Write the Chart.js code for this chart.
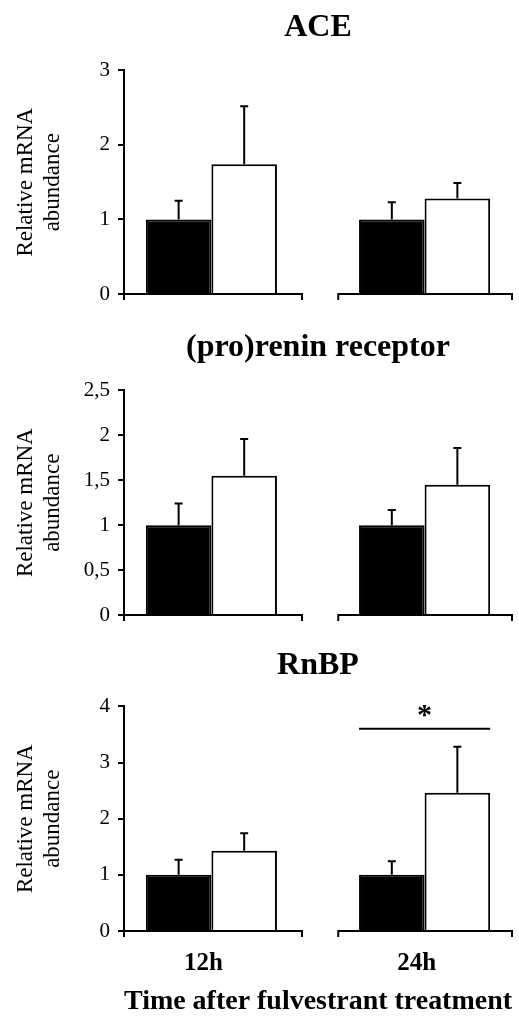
<!DOCTYPE html>
<html>
<head>
<meta charset="utf-8">
<script src="https://cdn.jsdelivr.net/npm/chart.js@4"></script>
<style>
  body { margin: 0; background: #fff; }
  canvas { display: block; }
</style>
</head>
<body>
<canvas id="aceChart" width="519" height="320"></canvas>
<canvas id="prrChart" width="519" height="320"></canvas>
<canvas id="rnbpChart" width="519" height="381"></canvas>
<script>
// data (control = black, fulvestrant = white)
const groups = ['12h', '24h'];

const aceControl = [1, 1];
const aceControlErr = [0.25, 0.23];
const aceTreated = [1.74, 1.28];
const aceTreatedErr = [0.78, 0.21];

const prrControl = [1, 1];
const prrControlErr = [0.24, 0.17];
const prrTreated = [1.55, 1.45];
const prrTreatedErr = [0.41, 0.41];

const rnbpControl = [1, 1];
const rnbpControlErr = [0.27, 0.24];
const rnbpTreated = [1.43, 2.46];
const rnbpTreatedErr = [0.31, 0.82];

const aceTicks = [0, 1, 2, 3];
const prrTicks = [0, 0.5, 1, 1.5, 2, 2.5];
const rnbpTicks = [0, 1, 2, 3, 4];

const rnbpSignif = { group: 1, y: 3.6, label: '*' };

const serif = "'Liberation Serif', 'Times New Roman', serif";
const AXIS_BREAK = [0.425, 0.595];

// error bars (upper only, with cap)
const errorBars = {
    id: 'errorBars',
    afterDatasetsDraw(chart) {
        const ctx = chart.ctx;
        const y = chart.scales.y;
        ctx.save();
        ctx.strokeStyle = '#000';
        ctx.lineWidth = 2;
        chart.data.datasets.forEach((ds, i) => {
            const meta = chart.getDatasetMeta(i);
            meta.data.forEach((bar, j) => {
                const top = y.getPixelForValue(ds.data[j].y + ds.errors[j]);
                ctx.beginPath();
                ctx.moveTo(bar.x, bar.y);
                ctx.lineTo(bar.x, top);
                ctx.moveTo(bar.x - 4, top);
                ctx.lineTo(bar.x + 4, top);
                ctx.stroke();
            });
        });
        ctx.restore();
    }
};

// x axis drawn as two pieces, one under each time point
const brokenAxis = {
    id: 'brokenAxis',
    afterDraw(chart) {
        const ctx = chart.ctx;
        const x = chart.scales.x;
        const y0 = chart.scales.y.getPixelForValue(0);
        const segs = [[x.min, AXIS_BREAK[0]], [AXIS_BREAK[1], x.max]];
        ctx.save();
        ctx.strokeStyle = '#000';
        ctx.lineWidth = 2;
        segs.forEach(s => {
            const a = x.getPixelForValue(s[0]);
            const b = x.getPixelForValue(s[1]);
            ctx.beginPath();
            ctx.moveTo(a, y0);
            ctx.lineTo(b, y0);
            ctx.moveTo(a, y0 - 1);
            ctx.lineTo(a, y0 + 6);
            ctx.moveTo(b, y0 - 1);
            ctx.lineTo(b, y0 + 6);
            ctx.stroke();
        });
        ctx.restore();
    }
};

const significance = {
    id: 'significance',
    afterDraw(chart, args, opts) {
        if (!opts || opts.label === undefined) return;
        const ctx = chart.ctx;
        const y = chart.scales.y;
        const b0 = chart.getDatasetMeta(0).data[opts.group];
        const b1 = chart.getDatasetMeta(1).data[opts.group];
        const left = b0.x - b0.width / 2;
        const right = b1.x + b1.width / 2;
        const py = y.getPixelForValue(opts.y);
        ctx.save();
        ctx.strokeStyle = '#000';
        ctx.lineWidth = 2;
        ctx.beginPath();
        ctx.moveTo(left, py);
        ctx.lineTo(right, py);
        ctx.stroke();
        ctx.fillStyle = '#000';
        ctx.font = 'bold 30px ' + serif;
        ctx.textAlign = 'center';
        ctx.textBaseline = 'middle';
        ctx.fillText(opts.label, (left + right) / 2, py - 13);
        ctx.restore();
    }
};

function makePanel(id, title, control, controlErr, treated, treatedErr, ticks, opt) {
    const toPoints = vals => groups.map((g, i) => ({ x: i, y: vals[i] }));
    const config = {
        type: 'bar',
        data: {
            datasets: [{
                label: 'control',
                data: toPoints(control),
                errors: controlErr,
                backgroundColor: '#000',
                borderColor: '#000',
                borderWidth: 2
            }, {
                label: 'fulvestrant',
                data: toPoints(treated),
                errors: treatedErr,
                backgroundColor: '#fff',
                borderColor: '#000',
                borderWidth: 2
            }]
        },
        options: {
            responsive: false,
            animation: false,
            devicePixelRatio: 1,
            categoryPercentage: 0.615,
            barPercentage: 1,
            layout: {
                padding: { left: 0, right: 7, top: 0, bottom: opt.padBottom }
            },
            plugins: {
                legend: { display: false },
                tooltip: { enabled: false },
                title: {
                    display: true,
                    text: title,
                    fullSize: false,
                    color: '#000',
                    font: { family: serif, size: 32, weight: 'bold', lineHeight: 1.2 },
                    padding: { top: opt.titleTop, bottom: opt.titleBottom }
                },
                significance: opt.signif || {}
            },
            scales: {
                x: {
                    type: 'linear',
                    offset: false,
                    min: -0.41,
                    max: 1.41,
                    afterBuildTicks: scale => {
                        scale.ticks = groups.map((g, i) => ({ value: i }));
                    },
                    afterFit: scale => { scale.height = opt.xHeight; },
                    ticks: {
                        display: opt.showX,
                        color: '#000',
                        padding: 18,
                        labelOffset: -8,
                        font: { family: serif, size: 25, weight: 'bold' },
                        callback: v => groups[v]
                    },
                    grid: { display: false, drawTicks: false, offset: false },
                    border: { display: false },
                    title: {
                        display: opt.showX,
                        text: 'Time after fulvestrant treatment',
                        color: '#000',
                        font: { family: serif, size: 28, weight: 'bold', lineHeight: 1.2 },
                        padding: { top: 0, bottom: 0 }
                    }
                },
                y: {
                    min: 0,
                    max: ticks[ticks.length - 1],
                    afterBuildTicks: scale => {
                        scale.ticks = ticks.map(v => ({ value: v }));
                    },
                    afterFit: scale => { scale.width = 124; },
                    ticks: {
                        color: '#000',
                        padding: 8,
                        font: { family: serif, size: 21 },
                        callback: v => String(v).replace('.', ',')
                    },
                    grid: {
                        display: true,
                        drawOnChartArea: false,
                        drawTicks: true,
                        tickLength: 6,
                        color: '#000',
                        lineWidth: 2
                    },
                    border: { display: true, color: '#000', width: 2 },
                    title: {
                        display: true,
                        text: ['Relative mRNA', 'abundance'],
                        color: '#000',
                        font: { family: serif, size: 23, lineHeight: 1.2 },
                        padding: { top: 12, bottom: 0 }
                    }
                }
            }
        },
        plugins: [errorBars, brokenAxis, significance]
    };
    new Chart(document.getElementById(id).getContext('2d'), config);
}

makePanel('aceChart', 'ACE', aceControl, aceControlErr, aceTreated, aceTreatedErr, aceTicks,
    { padBottom: 26, titleTop: 9, titleBottom: 23, showX: false, xHeight: 0 });
makePanel('prrChart', '(pro)renin receptor', prrControl, prrControlErr, prrTreated, prrTreatedErr, prrTicks,
    { padBottom: 25, titleTop: 9, titleBottom: 23, showX: false, xHeight: 0 });
makePanel('rnbpChart', 'RnBP', rnbpControl, rnbpControlErr, rnbpTreated, rnbpTreatedErr, rnbpTicks,
    { padBottom: 2, titleTop: 7, titleBottom: 21, showX: true, signif: rnbpSignif, xHeight: 88 });
</script>
</body>
</html>
